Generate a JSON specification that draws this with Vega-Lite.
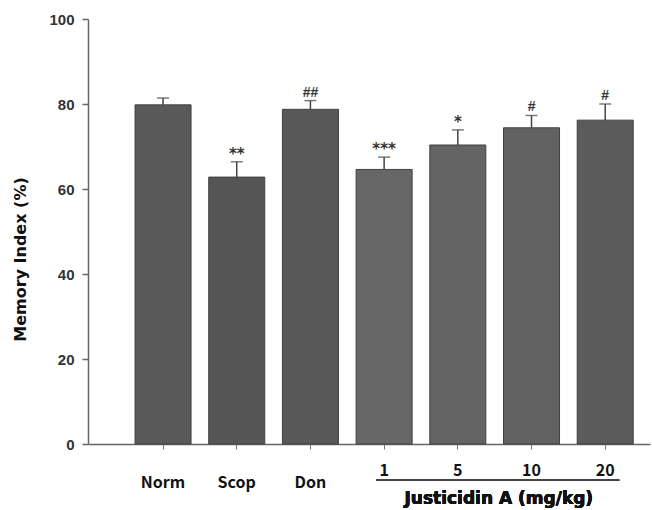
{
  "$schema": "https://vega.github.io/schema/vega-lite/v6.json",
  "width": 562,
  "height": 425,
  "autosize": {"type": "none"},
  "padding": {"left": 88, "top": 19, "right": 2, "bottom": 66},
  "background": "white",
  "config": {"view": {"stroke": null}},
  "data": {
    "values": [
      {"group": "Norm", "mean": 79.8, "errTop": 81.4, "sig": ""},
      {"group": "Scop", "mean": 62.8, "errTop": 66.4, "sig": "**"},
      {"group": "Don", "mean": 78.75, "errTop": 80.8, "sig": "##"},
      {"group": "1", "mean": 64.6, "errTop": 67.5, "sig": "***"},
      {"group": "5", "mean": 70.35, "errTop": 73.9, "sig": "*"},
      {"group": "10", "mean": 74.4, "errTop": 77.3, "sig": "#"},
      {"group": "20", "mean": 76.2, "errTop": 80.0, "sig": "#"}
    ]
  },
  "encoding": {
    "x": {
      "field": "group",
      "type": "nominal",
      "sort": null,
      "scale": {"paddingInner": 0.24, "paddingOuter": 0.433, "align": 0.737},
      "axis": {
        "title": null,
        "labelAngle": 0,
        "labelFont": "Noto Sans CJK KR",
        "labelFontWeight": "bold",
        "labelFontSize": 16,
        "labelColor": "#111",
        "labelBaseline": "top",
        "labelPadding": 13,
        "labelLineHeight": 12,
        "labelOverlap": false,
        "labelExpr": "indexof(['Norm','Scop','Don'], datum.value) >= 0 ? ['', datum.value] : datum.value",
        "tickSize": 5,
        "tickColor": "#777",
        "tickWidth": 1,
        "domainColor": "#666",
        "domainWidth": 1.5
      }
    }
  },
  "layer": [
    {
      "mark": {"type": "bar", "stroke": "#404040", "strokeWidth": 1},
      "encoding": {
        "y": {
          "field": "mean",
          "type": "quantitative",
          "scale": {"domain": [0, 100], "nice": false},
          "axis": {
            "values": [0, 20, 40, 60, 80, 100],
            "grid": false,
            "title": "Memory Index (%)",
            "titleFont": "DejaVu Sans",
            "titleFontWeight": "bold",
            "titleFontSize": 16,
            "titleColor": "#111",
            "titleAngle": -90,
            "titleAlign": "center",
            "titleBaseline": "middle",
            "titleX": -68,
            "titleY": 240,
            "labelFont": "Liberation Sans",
            "labelFontWeight": "bold",
            "labelFontSize": 15,
            "labelColor": "#333",
            "labelPadding": 8,
            "tickSize": 6,
            "tickColor": "#666",
            "tickWidth": 1.5,
            "domainColor": "#666",
            "domainWidth": 1.5
          }
        },
        "color": {
          "field": "group",
          "type": "nominal",
          "legend": null,
          "scale": {
            "domain": ["Norm", "Scop", "Don", "1", "5", "10", "20"],
            "range": ["#595959", "#555555", "#585858", "#676767", "#646464", "#626262", "#5b5b5b"]
          }
        }
      }
    },
    {
      "mark": {"type": "rule", "color": "#444", "strokeWidth": 1.5},
      "encoding": {
        "y": {"field": "mean", "type": "quantitative"},
        "y2": {"field": "errTop"}
      }
    },
    {
      "mark": {"type": "tick", "color": "#444", "thickness": 1.5, "size": 12},
      "encoding": {
        "y": {"field": "errTop", "type": "quantitative"}
      }
    },
    {
      "transform": [{"filter": "indexof(datum.sig, '*') >= 0"}],
      "mark": {"type": "text", "baseline": "alphabetic", "dy": -3, "font": "DejaVu Sans", "fontWeight": "bold", "fontSize": 15, "color": "#333"},
      "encoding": {
        "y": {"field": "errTop", "type": "quantitative"},
        "text": {"field": "sig"}
      }
    },
    {
      "transform": [{"filter": "indexof(datum.sig, '#') >= 0"}],
      "mark": {"type": "text", "baseline": "alphabetic", "dy": -4, "font": "Liberation Sans", "fontWeight": "bold", "fontSize": 14, "color": "#333"},
      "encoding": {
        "y": {"field": "errTop", "type": "quantitative"},
        "text": {"field": "sig"}
      }
    },
    {
      "mark": {"type": "rule", "color": "#444", "strokeWidth": 1.5, "xOffset": -8, "x2Offset": 14},
      "encoding": {
        "x": {"datum": "1"},
        "x2": {"datum": "20"},
        "y": {"datum": -8.5}
      }
    },
    {
      "mark": {"type": "text", "text": "Justicidin A (mg/kg)", "font": "DejaVu Sans", "fontWeight": "bold", "fontSize": 17, "color": "#111", "baseline": "middle", "align": "center", "dx": 41},
      "encoding": {
        "x": {"datum": "5"},
        "y": {"datum": -13}
      }
    }
  ]
}
